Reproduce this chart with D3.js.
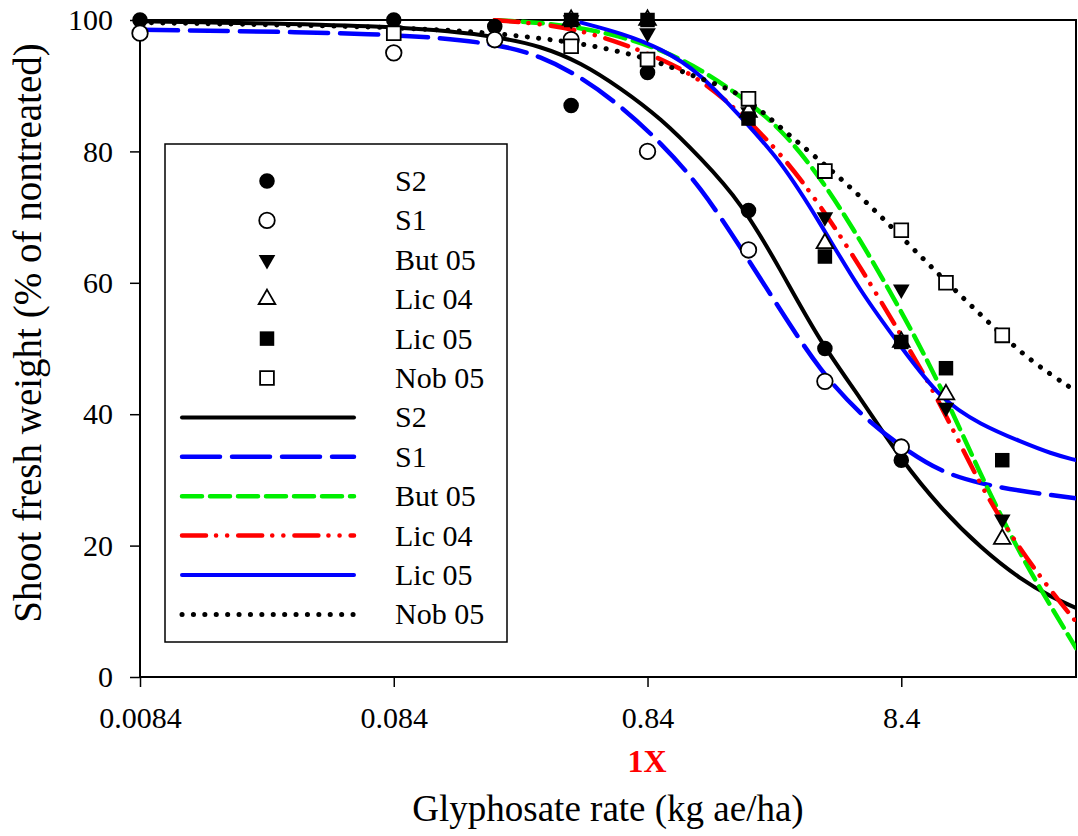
<!DOCTYPE html>
<html>
<head>
<meta charset="utf-8">
<script src="https://cdn.jsdelivr.net/npm/d3@7"></script>
<style>
  body { margin: 0; background: #fff; }
  text { font-family: "Liberation Serif", "Times New Roman", serif; }
</style>
</head>
<body>
<svg width="1078" height="836"></svg>
<script>
// observed rates (kg ae/ha) and % of nontreated
var rates = [0.0084, 0.084, 0.21, 0.42, 0.84, 2.1, 4.2, 8.4, 12.6, 21];
var s2Pts    = [100, 100, 99, 87, 92, 71, 50, 33, null, null];
var s1Pts    = [98, 95, 97, 97, 80, 65, 45, 35, null, null];
var but05Pts = [null, null, null, 100, 98, 86, 70, 59, 41, 24];
var lic04Pts = [null, null, null, 100, 100, 86, 66, 51, 43, 21];
var lic05Pts = [null, null, null, 100, 100, 85, 64, 51, 47, 33];
var nob05Pts = [null, 98, null, 96, 94, 88, 77, 68, 60, 52];

// fitted curves
var curveRates = [0.0084, 0.084, 0.21, 0.32, 0.46, 0.66, 0.95, 1.36, 1.96, 2.8, 4.0, 5.8, 8.4, 12, 17.3, 24.9, 32.7, 41];
var s2Curve    = [99.8, 99.2, 97.6, 96, 93.5, 89.6, 85, 79, 72.3, 62.1, 51.1, 42.5, 33, 25.7, 19.6, 14.8, 12.2, 10.5];
var s1Curve    = [98.5, 98, 96.5, 94.5, 91.3, 86.9, 81.3, 74.6, 65.3, 55.9, 46.7, 39.9, 35, 31.2, 29.4, 28.3, 27.7, 27.2];
var but05Curve = [null, null, 100, 99.6, 98.8, 97.5, 95.5, 92.5, 88.4, 83.6, 76.3, 66.5, 55.7, 44.4, 30.6, 18.4, 10.7, 4.4];
var lic04Curve = [null, null, 100, 99.4, 98.4, 96.5, 94.1, 91, 85.8, 79.8, 72, 62.4, 52, 41.7, 28.8, 19.2, 13.1, 8.4];
var lic05Curve = [null, null, null, null, 99.6, 98, 95.7, 91.9, 85.2, 78.7, 69.3, 58.6, 50.2, 42.2, 38.4, 35.8, 34, 33];
var nob05Curve = [99.6, 99, 98, 97.2, 96.4, 95.2, 93.5, 91, 89, 83.6, 78.7, 73.2, 67, 61, 55.1, 49.3, 46, 43.5];

var xTicks = [0.0084, 0.084, 0.84, 8.4];
var yTicks = [0, 20, 40, 60, 80, 100];
var names = ["S2", "S1", "But 05", "Lic 04", "Lic 05", "Nob 05"];

var svg = d3.select("svg"),
    margin = {top: 20, right: 2, bottom: 159, left: 140},
    width = +svg.attr("width") - margin.left - margin.right,
    height = +svg.attr("height") - margin.top - margin.bottom;

var x = d3.scaleLog().domain([0.0084, 41]).range([0, width]),
    y = d3.scaleLinear().domain([0, 100]).range([height, 0]);

var g = svg.append("g")
    .attr("transform", "translate(" + margin.left + "," + margin.top + ")");

var series = [
  {pts: s2Pts,    curve: s2Curve,    color: "#000",    dash: null,      w: 4,   sym: d3.symbolCircle,   fill: true,  rot: 0},
  {pts: s1Pts,    curve: s1Curve,    color: "#0000ff", dash: "38,12",   w: 4.5, sym: d3.symbolCircle,   fill: false, rot: 0},
  {pts: but05Pts, curve: but05Curve, color: "#00ee00", dash: "20,8",    w: 4.5, sym: d3.symbolTriangle, fill: true,  rot: 180},
  {pts: lic04Pts, curve: lic04Curve, color: "#ff0000", dash: "24,10,0.1,11,0.1,11", w: 4.5, sym: d3.symbolTriangle, fill: false, rot: 0},
  {pts: lic05Pts, curve: lic05Curve, color: "#0000ff", dash: null,      w: 4,   sym: d3.symbolSquare,   fill: true,  rot: 0},
  {pts: nob05Pts, curve: nob05Curve, color: "#000",    dash: "0.1,11.3", w: 5,  sym: d3.symbolSquare,   fill: false, rot: 0}
];

function symPath(s) {
  var size = s.sym === d3.symbolCircle ? 190 : (s.sym === d3.symbolTriangle ? 120 : (s.fill ? 210 : 190));
  return d3.symbol().type(s.sym).size(size)();
}

var line = d3.line()
    .defined(function(d) { return d[1] != null; })
    .x(function(d) { return x(d[0]); })
    .y(function(d) { return y(d[1]); })
    .curve(d3.curveBasis);

// axes
g.append("g")
    .attr("class", "axis axis--x")
    .attr("transform", "translate(0," + height + ")")
    .call(d3.axisBottom(x).tickValues(xTicks).tickFormat(function(d) { return String(d); }).tickSize(10).tickPadding(20))
    .call(function(a) { a.select(".domain").remove(); });

g.append("g")
    .attr("class", "axis axis--y")
    .call(d3.axisLeft(y).tickValues(yTicks).tickSize(10).tickPadding(17))
    .call(function(a) { a.select(".domain").remove(); });

g.selectAll(".axis text").attr("font-size", 30).attr("fill", "#000")
    .attr("font-family", "Liberation Serif, Times New Roman, serif");
g.selectAll(".axis line").attr("stroke", "#000").attr("stroke-width", 1.5);

g.append("rect")
    .attr("width", width).attr("height", height)
    .attr("fill", "none").attr("stroke", "#000").attr("stroke-width", 2);

// curves
svg.append("defs").append("clipPath").attr("id", "clip")
    .append("rect").attr("width", width).attr("height", height + 2).attr("y", -2);

series.forEach(function(s) {
  g.append("path")
      .datum(curveRates.map(function(r, i) { return [r, s.curve[i]]; }).filter(function(d) { return d[1] != null; }))
      .attr("clip-path", "url(#clip)")
      .attr("d", line)
      .attr("fill", "none")
      .attr("stroke", s.color)
      .attr("stroke-width", s.w)
      .attr("stroke-linecap", "round")
      .attr("stroke-dasharray", s.dash);
});

// points
series.forEach(function(s) {
  g.selectAll(null)
      .data(rates.map(function(r, i) { return [r, s.pts[i]]; }).filter(function(d) { return d[1] != null; }))
      .enter().append("path")
      .attr("transform", function(d) { return "translate(" + x(d[0]) + "," + y(d[1]) + ") rotate(" + s.rot + ")"; })
      .attr("d", symPath(s))
      .attr("fill", s.fill ? "#000" : "#fff")
      .attr("stroke", "#000")
      .attr("stroke-width", s.fill ? 0 : 1.8);
});

// legend
var legend = svg.append("g").attr("transform", "translate(165,144)");
legend.append("rect")
    .attr("width", 342).attr("height", 498)
    .attr("fill", "#fff").attr("stroke", "#000").attr("stroke-width", 1.5);

series.forEach(function(s, i) {
  var yy = 37 + i * 39.4;
  legend.append("path")
      .attr("transform", "translate(102," + yy + ") rotate(" + s.rot + ")")
      .attr("d", symPath(s))
      .attr("fill", s.fill ? "#000" : "#fff")
      .attr("stroke", "#000")
      .attr("stroke-width", s.fill ? 0 : 1.8);
  legend.append("text").attr("x", 230).attr("y", yy + 10).attr("font-size", 30).text(names[i]);
});

series.forEach(function(s, i) {
  var yy = 37 + (i + 6) * 39.4;
  legend.append("line")
      .attr("x1", 17).attr("x2", 189).attr("y1", yy).attr("y2", yy)
      .attr("stroke", s.color)
      .attr("stroke-width", s.w)
      .attr("stroke-linecap", "round")
      .attr("stroke-dasharray", s.dash);
  legend.append("text").attr("x", 230).attr("y", yy + 10).attr("font-size", 30).text(names[i]);
});

// titles
svg.append("text")
    .attr("x", 647).attr("y", 772)
    .attr("text-anchor", "middle")
    .attr("font-size", 32).attr("font-weight", "bold").attr("fill", "#ff0000")
    .text("1X");

svg.append("text")
    .attr("x", 608).attr("y", 821)
    .attr("text-anchor", "middle")
    .attr("font-size", 37)
    .text("Glyphosate rate (kg ae/ha)");

svg.append("text")
    .attr("transform", "translate(41,333) rotate(-90)")
    .attr("text-anchor", "middle")
    .attr("font-size", 39)
    .text("Shoot fresh weight (% of nontreated)");
</script>
</body>
</html>
